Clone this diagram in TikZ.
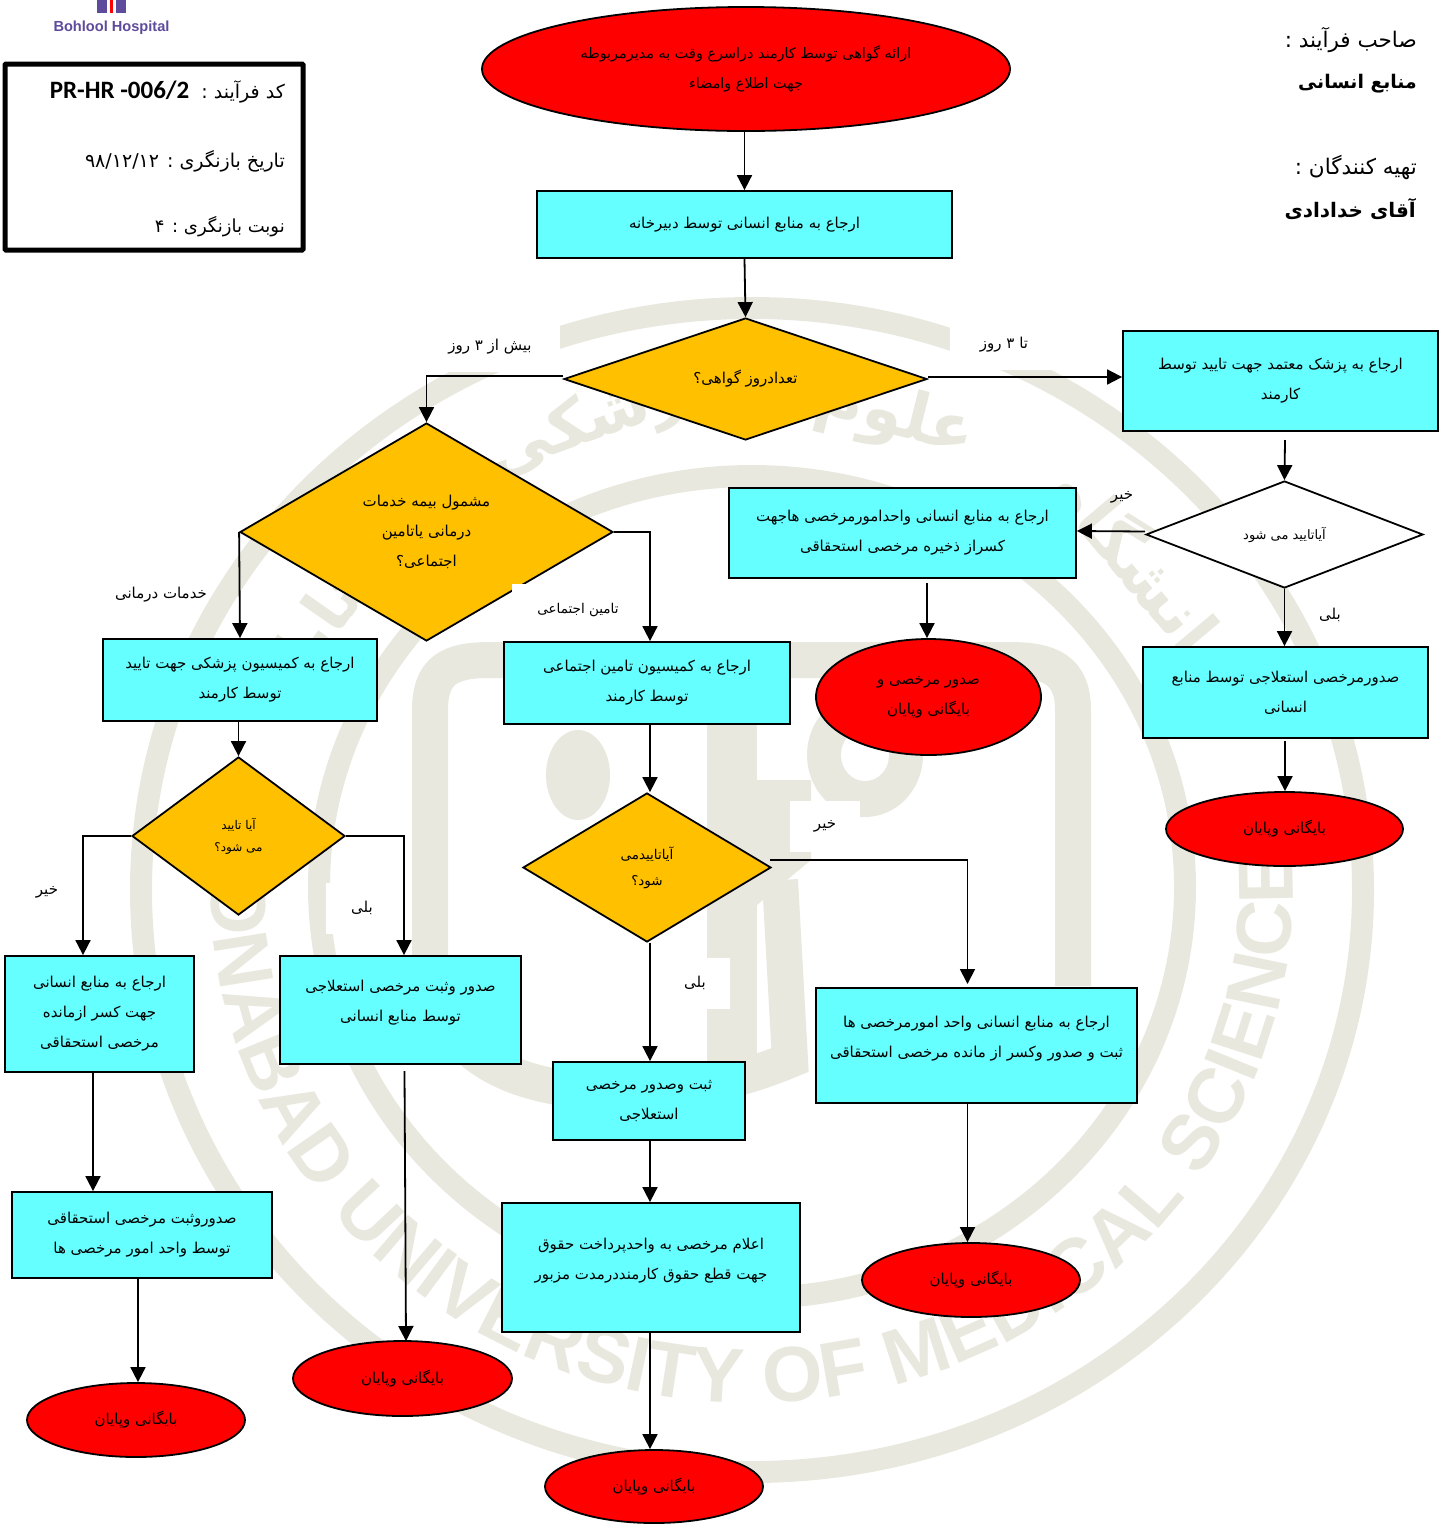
\documentclass[tikz,border=0pt]{standalone}
\usepackage{fontspec}
\usetikzlibrary{arrows.meta, shapes.geometric, decorations.text}
\TeXXeTstate=1
\newfontfamily\arabicfont[Script=Arabic]{DejaVu Sans}
\newfontfamily\latinfont{Liberation Sans}
\newfontfamily\codefont{Carlito}
\newcommand{\fr}[1]{\raisebox{-1.8pt}{\beginR #1\endR}}
\definecolor{boxcyan}{HTML}{66FFFF}
\definecolor{askamber}{HTML}{FFC000}
\definecolor{markgray}{HTML}{E9E8DF}
\definecolor{logopurple}{HTML}{5F4B9B}
\tikzset{
    fatext/.style={font=\fontsize{#1}{30}\selectfont\arabicfont, align=center, text=black},
    fatext/.default=15,
    processbox/.style={rectangle, draw, line width=1.8pt, fill=boxcyan, inner sep=0pt, fatext},
    endoval/.style={ellipse, draw, line width=1.8pt, fill=red, inner sep=0pt, fatext},
    askdiamond/.style={diamond, draw, line width=1.8pt, fill=askamber, inner sep=0pt, fatext},
    flow/.style={line width=1.8pt, -{Triangle[length=15pt,width=15pt]}},
    edgelabel/.style={inner sep=0pt, fatext=15},
    headtext/.style={anchor=east, inner sep=0pt, fatext=#1},
    headtext/.default=19,
    headbold/.style={anchor=east, inner sep=0pt, font=\fontsize{#1}{24}\selectfont\arabicfont\bfseries},
    headbold/.default=20,
    markring/.style={draw=markgray, line width=22pt},
    markband/.style={draw=markgray, line width=36pt},
    markword/.style={text=markgray, font=\fontsize{66}{66}\selectfont\arabicfont\bfseries},
}
\begin{document}
\begin{tikzpicture}[x=1pt, y=-1pt]
        \useasboundingbox (0,0) rectangle (1448,1524);

        % Watermark
        \path[markring] (752,890) ellipse (611 and 582);
        \path[markring] (752,887) ellipse (433 and 411);
        \path[markband] (430,950) -- (430,710) .. controls (430,670) and (450,660) .. (490,660) -- (1010,660) .. controls (1050,660) and (1073,670) .. (1073,710) -- (1073,986);
        \path[markband] (430,950) .. controls (430,1060) and (520,1092) .. (620,1092) .. controls (680,1092) and (730,1085) .. (790,1060) -- (780,880);
        \fill[markgray] (707,700) rectangle (757,1090);
        \fill[markgray] (757,780) -- (811,780) -- (811,860) -- (757,905) -- cycle;
        \fill[markgray] (578,775) ellipse (32 and 45);
        \fill[markgray] (865,755) ellipse (58 and 62);
        \fill[white] (865,755) ellipse (24 and 26);
        \path[decorate, decoration={text along path, text align=center,
            text={|\fontsize{78}{78}\selectfont\latinfont\bfseries\color{markgray}|GONABAD UNIVERSITY OF MEDICAL SCIENCE}}]
            (752,887) ++(190:541 and 516) arc (190:-6:541 and 516);
        \node[markword, rotate=-14] (markone) at (895,418) {\fr{علوم}};
        \node[markword, rotate=20] (marktwo) at (600,420) {\fr{پزشکی}};
        \node[markword, rotate=-50] (markthree) at (1150,570) {\fr{دانشگاه}};
        \node[markword, rotate=55] (markfour) at (320,620) {\fr{گناباد}};

        % Logo
        \fill[logopurple] (97,0) rectangle (107,13);
        \fill[red] (110,0) rectangle (113,13);
        \fill[logopurple] (116,0) rectangle (126,13);
        \node[inner sep=0pt, text=logopurple, font=\fontsize{14.6}{16}\selectfont\latinfont\bfseries] (hospital) at (111.5,28) {Bohlool Hospital};

        % Header boxes
        \node[rectangle, draw, line width=5pt, rounded corners=1pt, minimum width=298pt, minimum height=186pt] (infobox) at (154,157) {};
        \node[headtext] (code) at (285,92) {\beginR کد فرآیند :\ \ \beginL{\codefont\bfseries\fontsize{25}{28}\selectfont PR-HR -006/2}\endL\endR};
        \node[headtext] (revdate) at (285,161) {\beginR تاریخ بازنگری : \beginL ۹۸/۱۲/۱۲\endL\endR};
        \node[headtext=18] (revnum) at (285,227) {\fr{نوبت بازنگری : ۴}};
        \node[headtext=21.5] (owner) at (1417,40) {\fr{صاحب فرآیند :}};
        \node[headbold=18.8] (ownername) at (1417,84) {\fr{منابع انسانی}};
        \node[headtext=21.5] (makers) at (1417,167) {\fr{تهیه کنندگان :}};
        \node[headbold] (makername) at (1416,209) {\fr{آقای خدادادی}};

        % Label patches come before the boxes and the lines
        \node[edgelabel, fill=white, minimum width=140pt, minimum height=50pt] (longlabel) at (490,347) {\fr{بیش از ۳ روز}};
        \node[edgelabel, fill=white, minimum width=108pt, minimum height=50pt] (shortlabel) at (1004,345) {\fr{تا ۳ روز}};
        \node[edgelabel] (medlabel) at (161,595) {\fr{خدمات درمانی}};
        \node[edgelabel] (noone) at (1122,497) {\fr{خیر}};
        \node[edgelabel] (yesone) at (1330,615) {\fr{بلی}};
        \node[edgelabel] (notwo) at (47,892) {\fr{خیر}};
        \node[edgelabel, fill=white, minimum width=72pt, minimum height=51pt] (yestwo) at (362,908) {\fr{بلی}};
        \node[edgelabel, fill=white, minimum width=70pt, minimum height=51pt] (nothree) at (825,826) {\fr{خیر}};
        \node[edgelabel, fill=white, minimum width=70pt, minimum height=51pt] (yesthree) at (695,983) {\fr{بلی}};

        % Nodes
        \node[endoval, fatext=14.4, minimum width=528pt, minimum height=124pt] (start) at (746,69) {\fr{ارائه گواهی توسط کارمند دراسرع وقت به مدیرمربوطه}\\\fr{جهت اطلاع وامضاء}};
        \node[processbox, minimum width=415pt, minimum height=67pt] (refer) at (744.5,224.5) {\fr{ارجاع به منابع انسانی توسط دبیرخانه}};
        \node[askdiamond, minimum width=363pt, minimum height=122pt] (days) at (745.5,379) {\fr{تعدادروز گواهی؟}};
        \node[processbox, minimum width=315pt, minimum height=100pt] (doctor) at (1280.5,381) {\fr{ارجاع به پزشک معتمد جهت تایید توسط}\\\fr{کارمند}};
        \node[askdiamond, fill=white, minimum width=277pt, minimum height=107pt, fatext=13] (confirm) at (1284.5,534.5) {\fr{آیاتایید می شود}};
        \node[processbox, minimum width=347pt, minimum height=90pt] (leaveone) at (902.5,533) {\fr{ارجاع به منابع انسانی واحدامورمرخصی هاجهت}\\\fr{کسراز ذخیره مرخصی استحقاقی}};
        \node[endoval, minimum width=225pt, minimum height=116pt] (issue) at (928.5,697) {\fr{صدور مرخصی و}\\\fr{بایگانی وپایان}};
        \node[processbox, minimum width=285pt, minimum height=91pt] (sickone) at (1285.5,692.5) {\fr{صدورمرخصی استعلاجی توسط منابع}\\\fr{انسانی}};
        \node[endoval, minimum width=237pt, minimum height=74pt] (endone) at (1284.5,829) {\fr{بایگانی وپایان}};
        \node[askdiamond, minimum width=373pt, minimum height=218pt] (insured) at (426.5,532) {\fr{مشمول بیمه خدمات}\\\fr{درمانی یاتامین}\\\fr{اجتماعی؟}};
        \node[edgelabel, fill=white, minimum width=132pt, minimum height=52pt, fatext=13.5] (soclabel) at (578,610) {\fr{تامین اجتماعی}};
        \node[processbox, minimum width=274pt, minimum height=82pt] (medboard) at (240,680) {\fr{ارجاع به کمیسیون پزشکی جهت تایید}\\\fr{توسط کارمند}};
        \node[processbox, minimum width=286pt, minimum height=82pt] (socboard) at (647,683) {\fr{ارجاع به کمیسیون تامین اجتماعی}\\\fr{توسط کارمند}};
        \node[askdiamond, minimum width=213pt, minimum height=158pt, font=\fontsize{12}{22}\selectfont\arabicfont] (askmed) at (238.5,836) {\fr{آیا تایید}\\\fr{می شود؟}};
        \node[askdiamond, minimum width=248pt, minimum height=149pt, font=\fontsize{13.5}{26}\selectfont\arabicfont] (asksoc) at (647,867.5) {\fr{آیاتاییدمی}\\\fr{شود؟}};
        \node[processbox, minimum width=189pt, minimum height=116pt] (leavetwo) at (99.5,1014) {\fr{ارجاع به منابع انسانی}\\\fr{جهت کسر ازمانده}\\\fr{مرخصی استحقاقی}};
        \node[processbox, minimum width=241pt, minimum height=108pt, text depth=20pt] (sicktwo) at (400.5,1010) {\fr{صدور وثبت مرخصی استعلاجی}\\\fr{توسط منابع انسانی}};
        \node[processbox, minimum width=260pt, minimum height=86pt] (record) at (142,1235) {\fr{صدوروثبت مرخصی استحقاقی}\\\fr{توسط واحد امور مرخصی ها}};
        \node[endoval, minimum width=218pt, minimum height=74pt] (endtwo) at (136,1420) {\fr{بایگانی وپایان}};
        \node[endoval, minimum width=219pt, minimum height=75pt] (endthree) at (402.5,1378.5) {\fr{بایگانی وپایان}};
        \node[processbox, minimum width=192pt, minimum height=78pt] (sickthree) at (649,1101) {\fr{ثبت وصدور مرخصی}\\\fr{استعلاجی}};
        \node[processbox, minimum width=298pt, minimum height=129pt, text depth=20pt] (payroll) at (651,1267.5) {\fr{اعلام مرخصی به واحدپرداخت حقوق}\\\fr{جهت قطع حقوق کارمنددرمدت مزبور}};
        \node[endoval, minimum width=218pt, minimum height=73pt] (endfour) at (654,1486.5) {\fr{بایگانی وپایان}};
        \node[processbox, minimum width=321pt, minimum height=115pt, text depth=20pt] (leavethree) at (976.5,1045.5) {\fr{ارجاع به منابع انسانی واحد امورمرخصی ها}\\\fr{ثبت و صدور وکسر از مانده مرخصی استحقاقی}};
        \node[endoval, minimum width=218pt, minimum height=74pt] (endfive) at (971,1280) {\fr{بایگانی وپایان}};

        % Free ends of the connectors
        \coordinate (doctorfoot) at (1285,440);
        \coordinate (leaveonefoot) at (927,583);
        \coordinate (sickonefoot) at (1285,741);
        \coordinate (sicktwofoot) at (404.5,1071);
        \coordinate (sicktwohead) at (406,1341);
        \coordinate (asksocright) at (770,860);
        \coordinate (leavethreehead) at (967.5,984);
        \coordinate (midaxis) at (650,0);
        \coordinate (medno) at (83,0);
        \coordinate (medyes) at (404,0);
        \coordinate (leavetwoaxis) at (93,0);
        \coordinate (recordaxis) at (138,0);

        % Edges
        \draw[flow] (start.south -| refer.north) -- (refer.north);
        \draw[flow] (refer.south) -- (days.north);
        \draw[flow] (days.west) ++(0,-3) -| (insured.north);
        \draw[flow] (days.east) ++(0,-2) -- (doctor.west |- 0,377);
        \draw[flow] (doctorfoot) -- (confirm.north);
        \draw[flow] (confirm.west) ++(0,-3) -- (leaveone.east |- 0,531);
        \draw[flow] (leaveonefoot) -- (leaveonefoot |- issue.north);
        \draw[flow] (confirm.south) -- (sickone.north -| confirm.south);
        \draw[flow] (sickonefoot) -- (sickonefoot |- endone.north);
        \draw[flow] (insured.west) -- (medboard.north);
        \draw[flow] (insured.east) -| (socboard.north -| midaxis);
        \draw[flow] (medboard.south -| askmed.north) -- (askmed.north);
        \draw[flow] (socboard.south -| midaxis) -- (asksoc.north -| midaxis);
        \draw[flow] (askmed.west) -| (leavetwo.north -| medno);
        \draw[flow] (askmed.east) -| (sicktwo.north -| medyes);
        \draw[flow] (asksocright) -| (leavethreehead);
        \draw[flow] (asksoc.south -| midaxis) -- (sickthree.north -| midaxis);
        \draw[flow] (leavetwo.south -| leavetwoaxis) -- (record.north -| leavetwoaxis);
        \draw[flow] (sicktwofoot) -- (sicktwohead);
        \draw[flow] (record.south -| recordaxis) -- (endtwo.north -| recordaxis);
        \draw[flow] (sickthree.south -| midaxis) -- (payroll.north -| midaxis);
        \draw[flow] (payroll.south -| midaxis) -- (endfour.north -| midaxis);
        \draw[flow] (leavethree.south -| leavethreehead) -- (endfive.north -| leavethreehead);
    \end{tikzpicture}
\end{document}
